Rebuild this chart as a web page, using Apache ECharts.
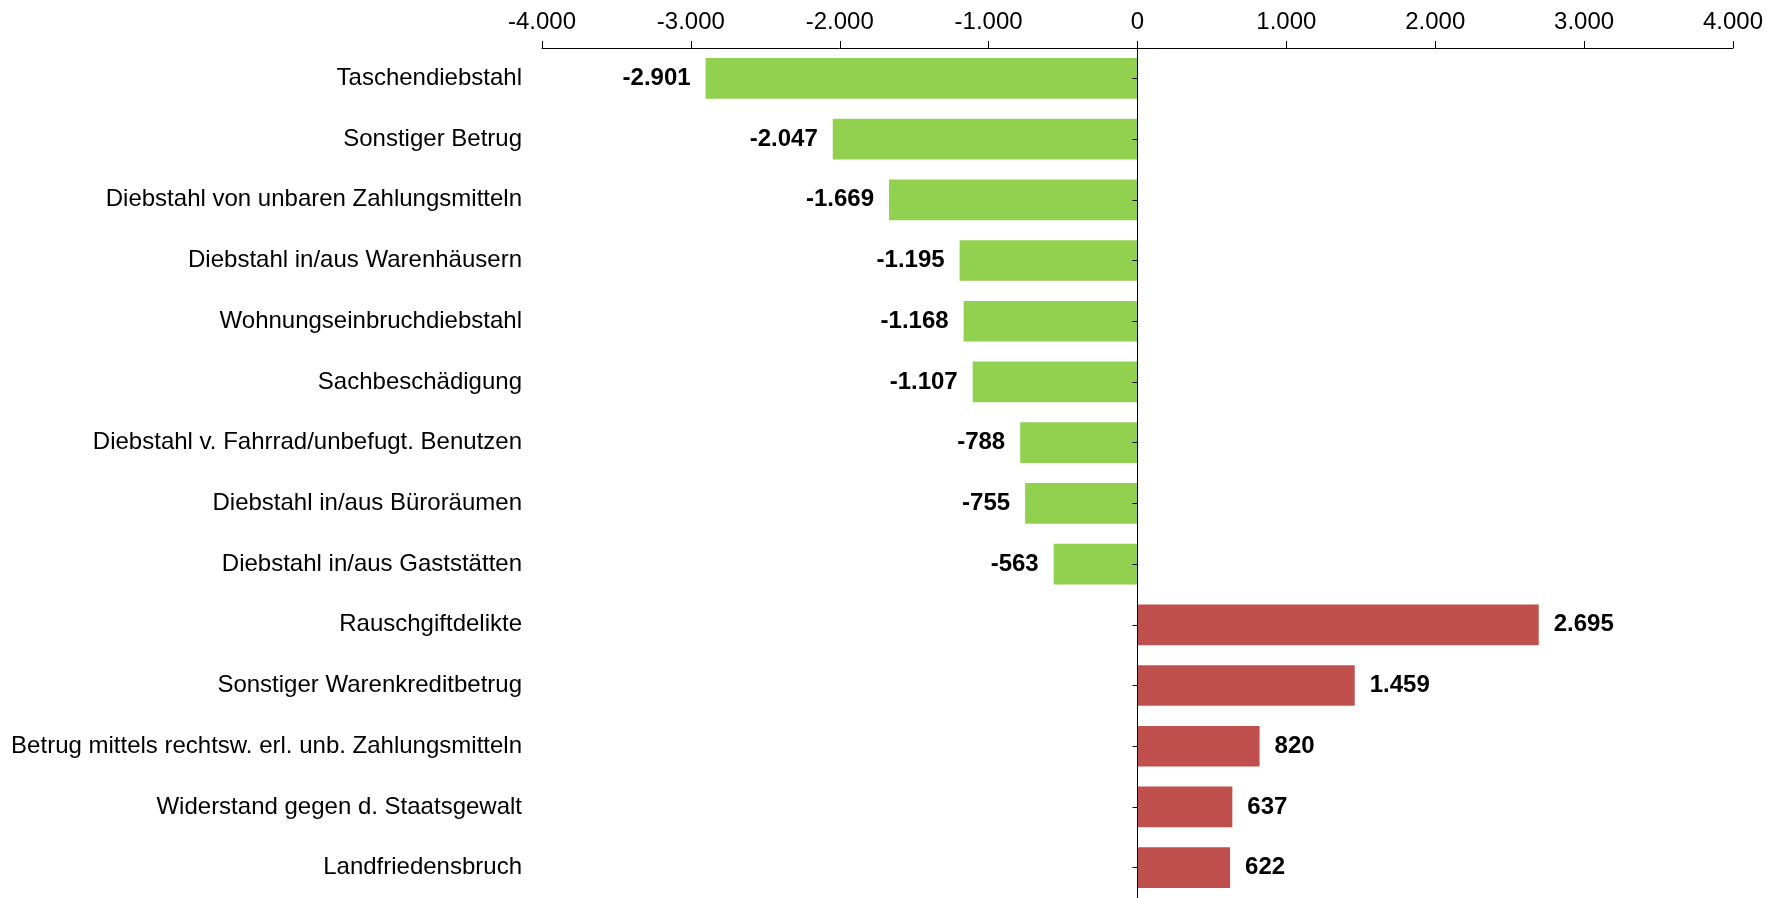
<!DOCTYPE html>
<html>
<head>
<meta charset="utf-8">
<script src="https://cdn.jsdelivr.net/npm/echarts@6/dist/echarts.min.js"></script>
<style>
html,body{margin:0;padding:0;background:#fff;}
#chart{width:1781px;height:898px;}
</style>
</head>
<body>
<div id="chart"></div>
<script>
const categories = [
  'Taschendiebstahl',
  'Sonstiger Betrug',
  'Diebstahl von unbaren Zahlungsmitteln',
  'Diebstahl in/aus Warenhäusern',
  'Wohnungseinbruchdiebstahl',
  'Sachbeschädigung',
  'Diebstahl v. Fahrrad/unbefugt. Benutzen',
  'Diebstahl in/aus Büroräumen',
  'Diebstahl in/aus Gaststätten',
  'Rauschgiftdelikte',
  'Sonstiger Warenkreditbetrug',
  'Betrug mittels rechtsw. erl. unb. Zahlungsmitteln',
  'Widerstand gegen d. Staatsgewalt',
  'Landfriedensbruch'
];
const values = [-2901, -2047, -1669, -1195, -1168, -1107, -788, -755, -563, 2695, 1459, 820, 637, 622];
const xMin = -4000, xMax = 4000, xInterval = 1000;
const colorDecrease = '#92D050';
const colorIncrease = '#C0504D';

function fmt(v) {
  const s = Math.abs(Math.round(v)).toString().replace(/\B(?=(\d{3})+(?!\d))/g, '.');
  return (v < 0 ? '-' : '') + s;
}

const chart = echarts.init(document.getElementById('chart'), null, {renderer: 'canvas'});
const FONT = 'Liberation Sans, Arial, sans-serif';
chart.setOption({
  animation: false,
  backgroundColor: '#ffffff',
  grid: {left: 542, right: 48, top: 48, height: 853, containLabel: false},
  xAxis: {
    type: 'value', position: 'top', min: xMin, max: xMax, interval: xInterval,
    axisLine: {show: true, lineStyle: {color: '#000', width: 1}},
    axisTick: {show: true, length: 7, lineStyle: {color: '#000'}},
    splitLine: {show: false},
    axisLabel: {color: '#000', fontFamily: FONT, fontSize: 24, margin: 14, formatter: v => fmt(v)}
  },
  yAxis: [
    {
      type: 'category', data: categories, inverse: true, position: 'left',
      axisLine: {show: false, onZero: false}, axisTick: {show: false},
      axisLabel: {color: '#000', fontFamily: FONT, fontSize: 24, margin: 20, padding: [7, 0, 0, 0]}
    },
    {
      type: 'category', data: categories, inverse: true, position: 'left', z: 10,
      axisLine: {show: true, onZero: true, lineStyle: {color: '#000', width: 1}},
      axisTick: {show: true, alignWithLabel: true, length: 5, lineStyle: {color: '#000'}},
      axisLabel: {show: false}
    }
  ],
  series: [{
    type: 'bar', yAxisIndex: 0,
    data: values.map(v => ({value: v, itemStyle: {color: v < 0 ? colorDecrease : colorIncrease},
      label: {position: v < 0 ? 'left' : 'right'}})),
    barCategoryGap: '33%',
    label: {show: true, distance: 15, color: '#000', fontFamily: FONT, fontSize: 24, fontWeight: 'bold',
      padding: [7, 0, 0, 0], formatter: p => fmt(p.value)}
  }]
});
</script>
</body>
</html>
